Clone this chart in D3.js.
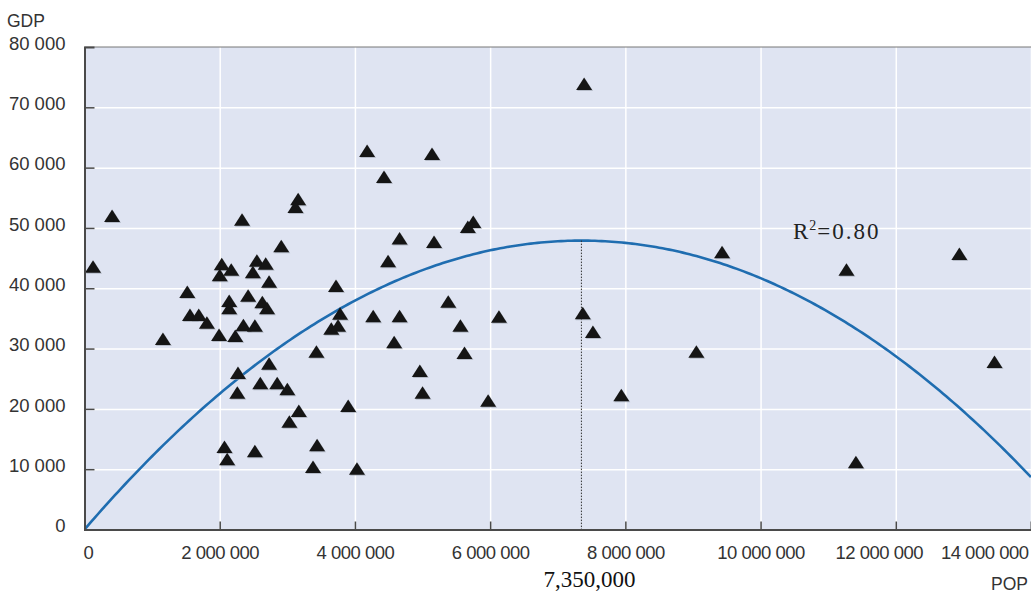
<!DOCTYPE html>
<html>
<head>
<meta charset="utf-8">
<script src="https://cdn.jsdelivr.net/npm/d3@7"></script>
<style>
  body { margin: 0; background: #fff; }
  svg { display: block; }
</style>
</head>
<body>
<div id="chart"></div>
<script>
"use strict"

// population (x) and GDP per capita (y) of each region
const pop = [
  126000, 408000, 1160000, 1520000, 1560000, 1690000, 1810000, 1990000, 2230000, 2030000,
  2000000, 2170000, 2140000, 2140000, 2550000, 2680000, 2490000, 2730000, 2910000, 2420000,
  2630000, 2700000, 2350000, 2520000, 2270000, 2260000, 2730000, 2600000, 2850000, 3000000,
  3170000, 3030000, 2070000, 2110000, 2520000, 3430000, 3440000, 3380000, 3900000, 4030000,
  3720000, 3780000, 3650000, 3750000, 4270000, 3160000, 3120000, 2330000, 4490000, 4660000,
  4180000, 5140000, 4430000, 5750000, 5670000, 5170000, 4660000, 5380000, 5560000, 6130000,
  4580000, 5620000, 4960000, 5000000, 5970000, 7390000, 9430000, 11270000, 12940000, 7370000,
  7520000, 9050000, 7940000, 13460000, 11410000
];
const gdp = [
  43400, 51800, 31400, 39200, 35400, 35400, 34100, 32100, 31900, 43800,
  42000, 42900, 37700, 36500, 44400, 43900, 42500, 40900, 46800, 38600,
  37500, 36500, 33700, 33600, 25800, 22500, 27300, 24100, 24100, 23100,
  19500, 17700, 13500, 11500, 12800, 29300, 13800, 10200, 20300, 9900,
  40200, 35600, 33100, 33600, 35200, 54600, 53300, 51200, 44300, 48100,
  62600, 62100, 58300, 50800, 50000, 47500, 35200, 37600, 33600, 35100,
  30900, 29100, 26100, 22500, 21200, 73700, 45800, 42900, 45500, 35700,
  32600, 29300, 22100, 27600, 11000
];

const popTicks = [0, 2000000, 4000000, 6000000, 8000000, 10000000, 12000000, 14000000];
const gdpTicks = [0, 10000, 20000, 30000, 40000, 50000, 60000, 70000, 80000];

// quadratic fit through the origin: vertex and peak value
const fitPeakPop = 7350000;
const fitPeakGdp = 47900;
const fitLabel = "0.80";
const peakLabel = "7,350,000";

let W = 1031, H = 595;
let margin = {top: 47, right: 0, bottom: 65.5, left: 84.5};

let svg = d3.select("#chart")
  .append("svg")
  .attr("width", W)
  .attr("height", H);

let x = d3.scaleLinear().domain([0, 14000000]).range([margin.left, W - margin.right]);
let y = d3.scaleLinear().domain([0, 80000]).range([H - margin.bottom, margin.top]);

let fmt = function(d) { return d3.format(",")(d).replace(/,/g, " "); };

svg.append("defs").append("clipPath").attr("id", "plotClip")
  .append("rect")
  .attr("x", x(0)).attr("y", y(80000))
  .attr("width", x(14000000) - x(0)).attr("height", y(0) - y(80000));

// plot background
svg.append("rect")
  .attr("x", x(0)).attr("y", y(80000))
  .attr("width", x(14000000) - x(0)).attr("height", y(0) - y(80000))
  .style("fill", "#dfe4f2");

// white grid
svg.append("g")
  .attr("transform", "translate(" + x(0) + ",0)")
  .call(d3.axisLeft(y).tickValues(gdpTicks.slice(1, -1)).tickSize(-(x(14000000) - x(0))).tickFormat(""))
  .call(g => g.select(".domain").remove())
  .call(g => g.selectAll("line").style("stroke", "#fff").style("stroke-width", 1.5));

svg.append("g")
  .attr("transform", "translate(0," + y(0) + ")")
  .call(d3.axisBottom(x).tickValues(popTicks.slice(1)).tickSize(-(y(0) - y(80000))).tickFormat(""))
  .call(g => g.select(".domain").remove())
  .call(g => g.selectAll("line").style("stroke", "#fff").style("stroke-width", 1.5));

// top border
svg.append("line")
  .attr("x1", x(0)).attr("x2", x(14000000))
  .attr("y1", y(80000)).attr("y2", y(80000))
  .style("stroke", "#777").style("stroke-width", 1);

// fitted curve
let fit = function(p) {
  let t = 1 - p / fitPeakPop;
  return fitPeakGdp * (1 - t * t);
};
let curvePts = d3.range(0, 14000001, 50000);

svg.append("path")
  .datum(curvePts)
  .attr("clip-path", "url(#plotClip)")
  .attr("d", d3.line().x(d => x(d)).y(d => y(fit(d))))
  .style("fill", "none")
  .style("stroke", "#1f6db0")
  .style("stroke-width", 2.6);

// dotted drop line at the vertex
svg.append("line")
  .attr("x1", x(fitPeakPop)).attr("x2", x(fitPeakPop))
  .attr("y1", y(fit(fitPeakPop))).attr("y2", y(0))
  .style("stroke", "#333")
  .style("stroke-width", 1)
  .style("stroke-dasharray", "1.5,1.5");

// triangles
let points = pop.map((p, i) => ({pop: p, gdp: gdp[i]}));
let tri = "M0,-7.5L8,5L-8,5Z";

svg.append("g")
  .selectAll("path")
  .data(points)
  .enter()
  .append("path")
  .attr("d", tri)
  .attr("transform", d => "translate(" + (x(d.pop) + 1) + "," + (y(d.gdp) + 1) + ")")
  .style("fill", "#9aa0ac")
  .style("opacity", 0.6);

svg.append("g")
  .selectAll("path")
  .data(points)
  .enter()
  .append("path")
  .attr("d", tri)
  .attr("transform", d => "translate(" + x(d.pop) + "," + y(d.gdp) + ")")
  .style("fill", "#151515");

// axes
let yAxis = svg.append("g")
  .attr("transform", "translate(" + x(0) + ",0)")
  .call(d3.axisLeft(y).tickValues(gdpTicks).tickSize(-10).tickPadding(19).tickFormat(fmt));

let xAxis = svg.append("g")
  .attr("transform", "translate(0," + y(0) + ")")
  .call(d3.axisBottom(x).tickValues(popTicks).tickSize(-8).tickPadding(16).tickFormat(fmt));

[yAxis, xAxis].forEach(g => {
  g.select(".domain").style("stroke", "#4a4a4a").style("stroke-width", 2);
  g.selectAll(".tick line").style("stroke", "#4a4a4a").style("stroke-width", 1.5);
  g.selectAll(".tick text")
    .style("font-family", "'Liberation Sans', Arial, sans-serif")
    .style("font-size", "18.5px")
    .style("fill", "#333");
});

yAxis.selectAll(".tick text").attr("dy", "0.12em");
yAxis.selectAll(".tick").filter(d => d === 0 || d === 80000).select("line").remove();
xAxis.selectAll(".tick").filter(d => d === 0 || d === 14000000).select("line").remove();
xAxis.selectAll(".tick text").style("letter-spacing", "-0.5px");
xAxis.selectAll(".tick").filter(d => d === 0).select("text")
  .attr("text-anchor", "start").attr("x", -1.5);
xAxis.selectAll(".tick").filter(d => d === 12000000).select("text")
  .attr("x", -17);
xAxis.selectAll(".tick").filter(d => d === 14000000).select("text")
  .attr("text-anchor", "end").attr("x", -3);

// axis titles
svg.append("text")
  .attr("x", 7).attr("y", 27)
  .style("font-family", "'Liberation Sans', Arial, sans-serif")
  .style("font-size", "17.5px")
  .style("fill", "#333")
  .text("GDP");

svg.append("text")
  .attr("x", 1028).attr("y", 590)
  .attr("text-anchor", "end")
  .style("font-family", "'Liberation Sans', Arial, sans-serif")
  .style("font-size", "17.5px")
  .style("fill", "#333")
  .text("POP");

// annotations
svg.append("text")
  .attr("x", x(fitPeakPop) + 8).attr("y", 587)
  .attr("text-anchor", "middle")
  .style("font-family", "'Liberation Serif', 'Times New Roman', serif")
  .style("font-size", "23px")
  .style("fill", "#111")
  .text(peakLabel);

let r2 = svg.append("text")
  .attr("x", 793).attr("y", 239)
  .style("font-family", "'Liberation Serif', 'Times New Roman', serif")
  .style("font-size", "23px")
  .style("fill", "#222");
r2.append("tspan").text("R");
r2.append("tspan").attr("dx", 1).attr("dy", -9).style("font-size", "14px").text("2");
r2.append("tspan").attr("dx", 1).attr("dy", 9).style("letter-spacing", "2px").text("=" + fitLabel);
</script>
</body>
</html>
